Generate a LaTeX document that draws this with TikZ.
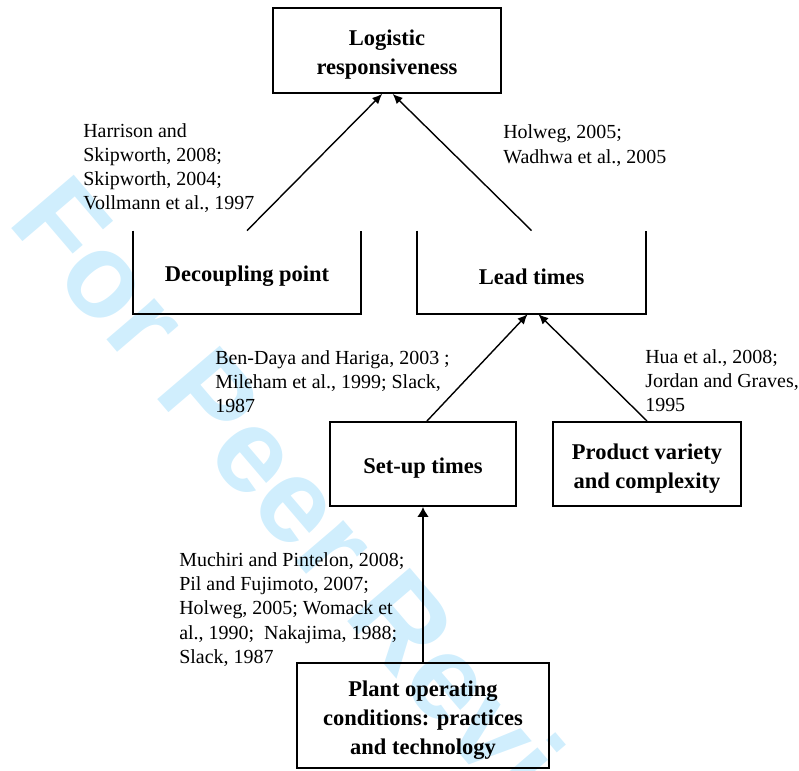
\documentclass[tikz,border=0pt]{standalone}
\usepackage{fontspec}
\setmainfont{Liberation Serif}
\newfontfamily\wmfont{Liberation Sans}
\usepackage{tikz}
\usetikzlibrary{arrows.meta,positioning}
\definecolor{wmblue}{RGB}{208,238,253}
\newcommand{\boxstrut}{\rule{0pt}{17pt}}
\tikzset{>={Latex[length=2.5mm,width=2.2mm]}}
\tikzset{
  factorbox/.style={draw, line width=0.5mm, align=center, inner sep=0pt, font=\fontsize{16}{20.6}\selectfont\bfseries},
  openbox/.style={align=center, inner sep=0pt, font=\fontsize{16}{20.6}\selectfont\bfseries},
  reftext/.style={align=left, anchor=west, inner sep=0pt, font=\fontsize{14.2}{17.1}\selectfont},
  link/.style={->, line width=0.35mm}
}

\begin{document}
\begin{tikzpicture}
\useasboundingbox (0,0) rectangle (19.975,19.25);
% watermark
\node[anchor=base west, rotate=-49.5, inner sep=0pt, text=wmblue, font=\wmfont\bfseries\fontsize{85}{85}\selectfont] (wm) at (0.15,13.7) {For Peer Review};

% factors
\node[factorbox, minimum width=5.7cm, minimum height=2.125cm] (lr) at (9.675,17.99) {\boxstrut Logistic\\responsiveness};
\node[openbox, minimum width=5.7cm, minimum height=2.075cm] (dp) at (6.175,12.44) {\boxstrut Decoupling point};
\node[openbox, minimum width=5.725cm, minimum height=2.075cm] (lt) at (13.29,12.44) {\boxstrut Lead times};
\node[factorbox, minimum width=4.65cm, minimum height=2.1cm] (su) at (10.575,7.65) {\boxstrut Set-up times};
\node[factorbox, minimum width=4.7cm, minimum height=2.1cm] (pv) at (16.175,7.65) {\boxstrut Product variety\\and complexity};
\node[factorbox, minimum width=6.3cm, minimum height=2.625cm] (pl) at (10.575,1.36) {\boxstrut Plant operating\\conditions: practices\\and technology};
\draw[line width=0.5mm] (dp.north west) -- (dp.south west) -- (dp.south east) -- (dp.north east);
\draw[line width=0.5mm] (lt.north west) -- (lt.south west) -- (lt.south east) -- (lt.north east);

% references
\node[reftext] (r1) at (2.075,15.05) {Harrison and\\Skipworth, 2008;\\Skipworth, 2004;\\Vollmann et al., 1997};
\node[reftext] (r2) at (12.575,15.61) {Holweg, 2005;\\Wadhwa et al., 2005};
\node[reftext] (r3) at (5.375,9.71) {Ben-Daya and Hariga, 2003 ;\\Mileham et al., 1999; Slack,\\1987};
\node[reftext] (r4) at (16.125,9.725) {Hua et al., 2008;\\Jordan and Graves,\\1995};
\node[reftext] (r5) at (4.475,4.01) {Muchiri and Pintelon, 2008;\\Pil and Fujimoto, 2007;\\Holweg, 2005; Womack et\\al., 1990;\ \ Nakajima, 1988;\\Slack, 1987};

% links
\draw[link] (dp.north) -- ([xshift=-0.12cm]lr.south);
\draw[link] (lt.north) -- ([xshift=0.14cm]lr.south);
\draw[link] ([xshift=0.1cm]su.north) -- ([xshift=-0.1cm]lt.south);
\draw[link] (pv.north) -- ([xshift=0.17cm]lt.south);
\draw[-{Latex[length=2.5mm,width=3mm]}, line width=0.65mm] (pl.north) -- (su.south);
\end{tikzpicture}
\end{document}
